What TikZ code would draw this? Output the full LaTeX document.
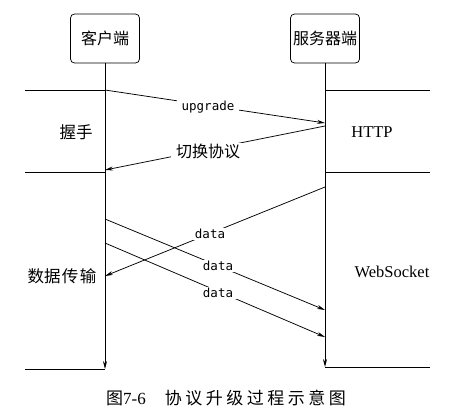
\documentclass[tikz,border=0pt]{standalone}
\usepackage{fontspec}
\setmainfont{Liberation Serif}
\newfontfamily\cjk{Noto Sans CJK SC}
\newfontfamily\monof{DejaVu Sans Mono}
\usetikzlibrary{arrows.meta}
\begin{document}
\begin{tikzpicture}[x=1pt,y=-1pt,
  line width=0.75pt,
  arr/.style={-{Stealth[length=8pt,width=4pt]}},
  box/.style={draw,rounded corners=4pt,minimum width=69pt,minimum height=49pt,inner sep=0pt,font=\cjk\fontsize{16}{16}\selectfont},
  msg/.style={fill=white,inner xsep=5pt,inner ysep=1pt,font=\monof\fontsize{12.5}{12.5}\selectfont},
  cmsg/.style={fill=white,inner xsep=5pt,inner ysep=1pt,font=\cjk\fontsize{16}{16}\selectfont},
  side/.style={font=\cjk\fontsize{16.5}{16.5}\selectfont},
  proto/.style={font=\fontsize{16.5}{16.5}\selectfont}]
\useasboundingbox (0,0) rectangle (450,413);
% boxes
\node[box] (c) at (105,38.5) {客户端};
\node[box] (s) at (325,38.5) {服务器端};
% lifelines
\coordinate (cend) at (105,369);
\coordinate (send) at (325,367);
\draw[arr] (c.south) -- (cend);
\draw[arr] (s.south) -- (send);
% phase separators
\coordinate (L1) at (25,90);   \coordinate (c1) at (105,90);
\coordinate (s1) at (325,90);  \coordinate (R1) at (430,90);
\coordinate (L2) at (25,172);  \coordinate (c2) at (105,172);
\coordinate (s2) at (325,172); \coordinate (R2) at (430,172);
\coordinate (L3) at (25,369);
\coordinate (s3) at (325,367); \coordinate (R3) at (430,367);
\draw (L1) -- (c1);
\draw (s1) -- (R1);
\draw (L2) -- (c2);
\draw (s2) -- (R2);
\draw (L3) -- (cend);
\draw (s3) -- (R3);
% message endpoints
\coordinate (u1) at (105,90);  \coordinate (u2) at (325,123);
\coordinate (p1) at (325,126); \coordinate (p2) at (105,170);
\coordinate (d1a) at (325,187); \coordinate (d1b) at (105,276);
\coordinate (d2a) at (105,219); \coordinate (d2b) at (325,310);
\coordinate (d3a) at (105,243); \coordinate (d3b) at (325,337);
% messages
\draw[arr] (u1) -- (u2);
\node[msg] (lu) at (208,107) {upgrade};
\draw[arr] (p1) -- (p2);
\node[cmsg] (lp) at (208,151) {切换协议};
\draw[arr] (d1a) -- (d1b);
\node[msg] (ld1) at (210,234) {data};
\draw[arr] (d2a) -- (d2b);
\node[msg] (ld2) at (218,266) {data};
\draw[arr] (d3a) -- (d3b);
\node[msg] (ld3) at (218,293) {data};
% phase labels
\node[side] (hs) at (76,132) {握手};
\node[side] (dt) at (62,276) {数据\hspace{1.5pt}传\hspace{1.5pt}输};
\node[proto] (http) at (372,132) {HTTP};
\node[proto] (ws) at (392,272) {WebSocket};
% caption
\node[font=\fontsize{17}{17}\selectfont] (cap) at (226,398)
  {{\cjk 图}7-6\hspace{19pt}{\cjk 协\hspace{3.5pt}议\hspace{3.5pt}升\hspace{3.5pt}级\hspace{3.5pt}过\hspace{3.5pt}程\hspace{3.5pt}示\hspace{3.5pt}意\hspace{3.5pt}图}};
\end{tikzpicture}
\end{document}
